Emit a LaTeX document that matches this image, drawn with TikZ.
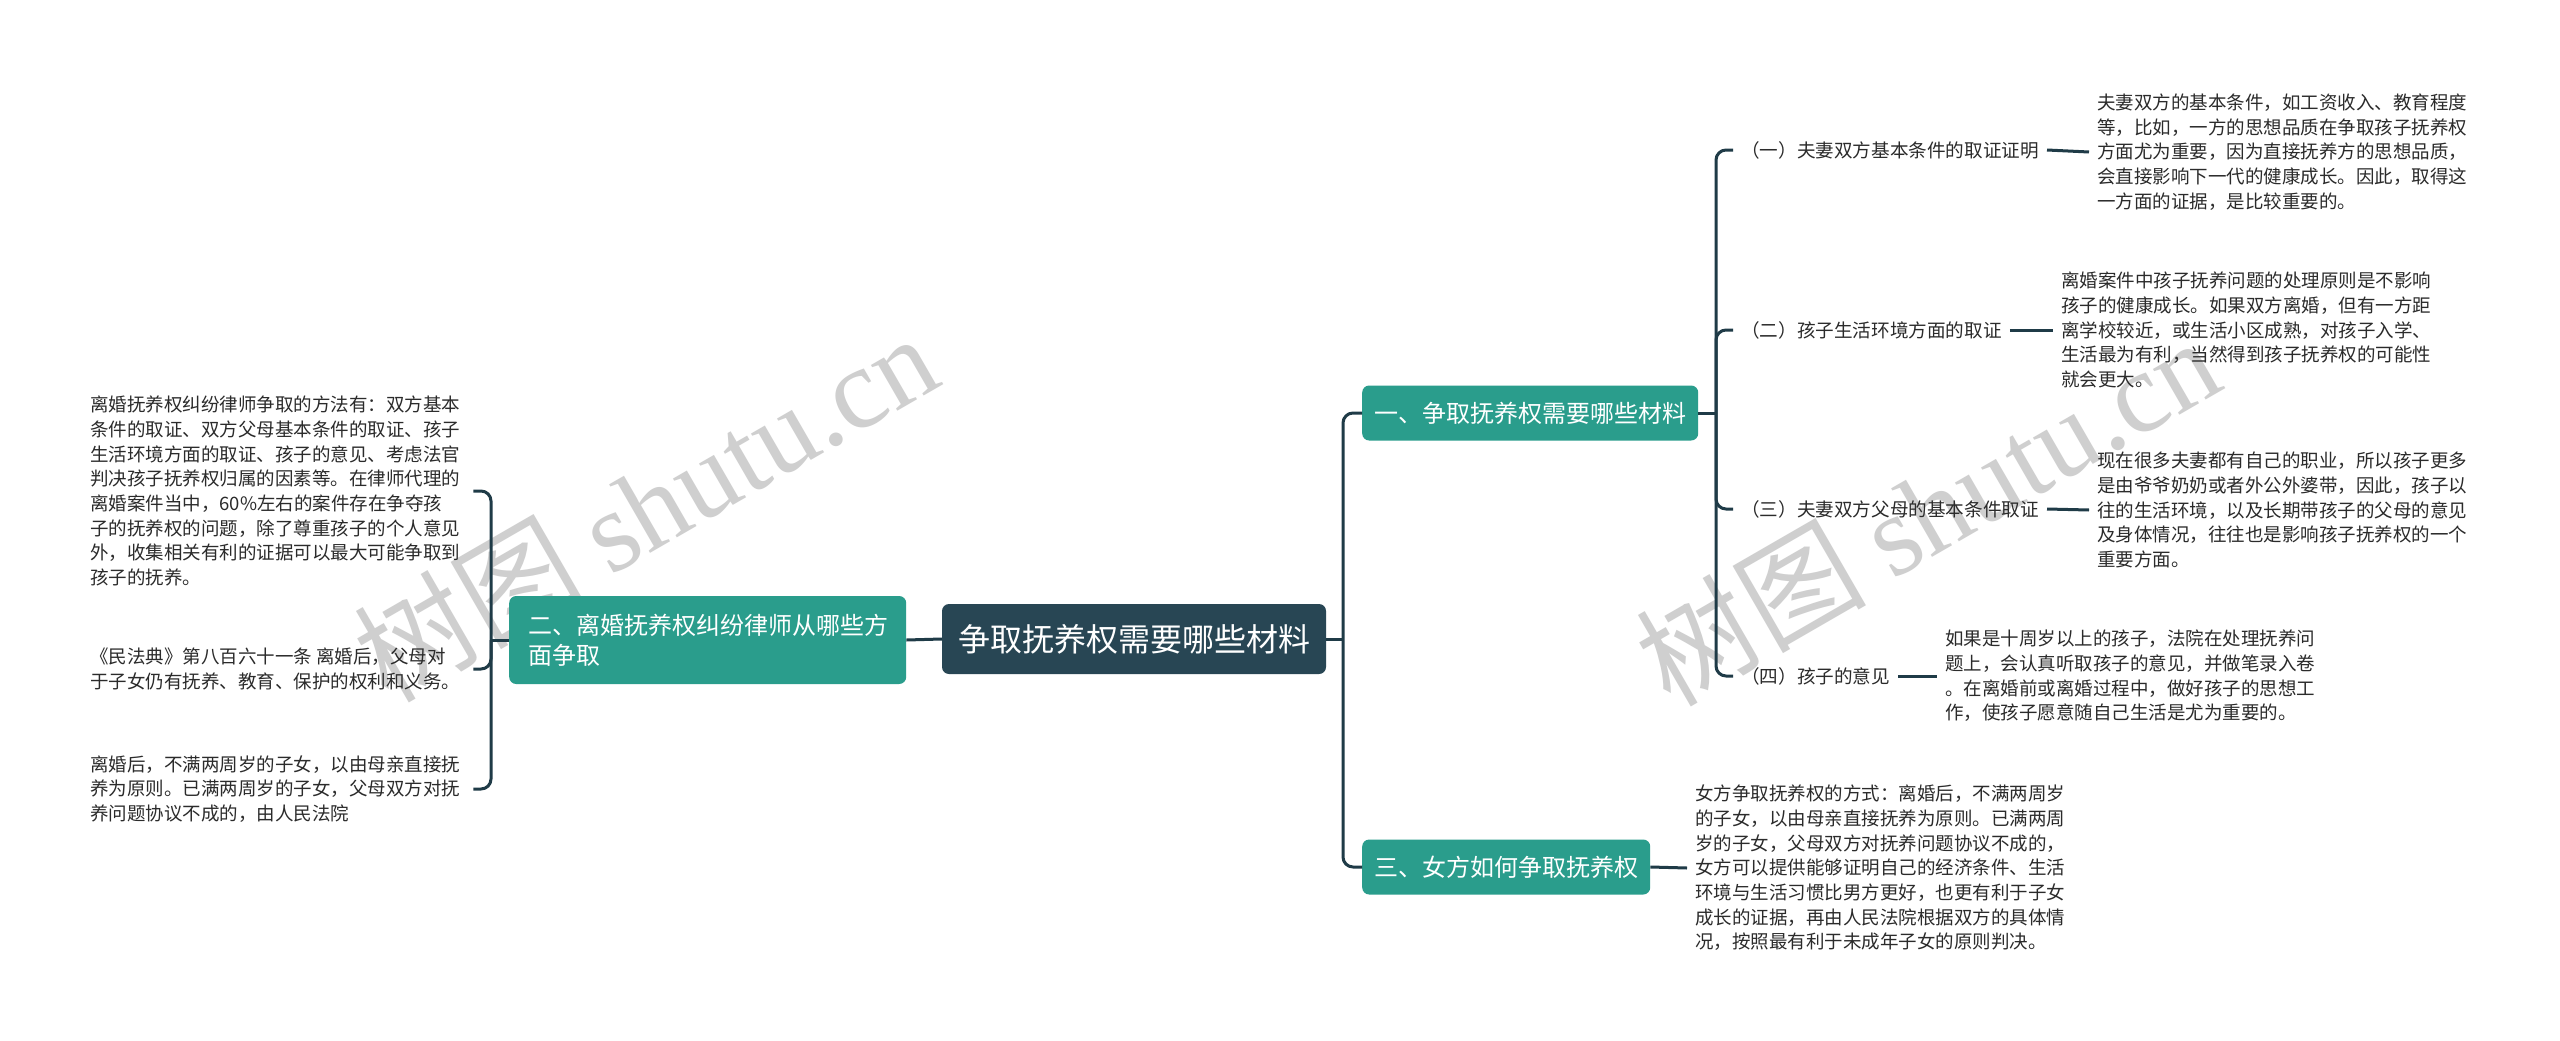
\documentclass[tikz,border=0pt]{standalone}
\usepackage{fontspec}
\setmainfont{Noto Sans CJK SC}
\newfontfamily\wmlatin{Liberation Serif}
\definecolor{rootc}{HTML}{284654}
\definecolor{tealc}{HTML}{2A9D8C}
\definecolor{linec}{HTML}{1F3B47}
\definecolor{textc}{HTML}{2B2B2B}
\definecolor{wmc}{HTML}{CFCFCF}
\tikzset{
  conn/.style={draw=linec, line width=3pt},
  rootbox/.style={fill=rootc, rounded corners=7pt, text=white, font=\fontsize{32}{38}\selectfont, minimum width=384pt, minimum height=70pt, inner sep=0pt},
  subbox/.style={fill=tealc, rounded corners=7pt, text=white, font=\fontsize{24}{30}\selectfont, minimum height=55pt, inner xsep=12pt, inner ysep=0pt},
  leaftext/.style={font=\fontsize{18.5}{24.7}\selectfont, text=textc, align=left, inner ysep=0pt},
  labeltext/.style={font=\fontsize{18.6}{24}\selectfont, text=textc, inner xsep=8pt, inner ysep=0pt},
  wm/.style={text=wmc, font=\fontsize{115}{120}\selectfont, inner sep=0pt}
}
\begin{document}
\begin{tikzpicture}[x=1pt,y=-1pt]
\useasboundingbox[fill=white] (0,0) rectangle (2560,1041);
% watermarks
\node[wm, rotate=30] (wm1) at (645,506) {树图 {\wmlatin shutu.cn}};
\node[wm, rotate=30] (wm2) at (1927,510) {树图 {\wmlatin shutu.cn}};

% main nodes
\node[rootbox] (root) at (1134,639) {争取抚养权需要哪些材料};
\node[subbox, anchor=west, align=left, text width=359pt, inner xsep=19pt, minimum height=88pt, font=\fontsize{24}{30}\selectfont] (sub2) at (509,640) {二、离婚抚养权纠纷律师从哪些方\\面争取};
\node[subbox, anchor=west] (sub1) at (1362,413) {一、争取抚养权需要哪些材料};
\node[subbox, anchor=west] (sub3) at (1362,867) {三、女方如何争取抚养权};

% left leaves
\node[leaftext, anchor=west, inner xsep=13pt] (L1) at (77,491) {离婚抚养权纠纷律师争取的方法有：双方基本\\条件的取证、双方父母基本条件的取证、孩子\\生活环境方面的取证、孩子的意见、考虑法官\\判决孩子抚养权归属的因素等。在律师代理的\\离婚案件当中，60\%左右的案件存在争夺孩\\子的抚养权的问题，除了尊重孩子的个人意见\\外，收集相关有利的证据可以最大可能争取到\\孩子的抚养。};
\node[leaftext, anchor=west, inner xsep=13pt] (L2) at (77,669) {《民法典》第八百六十一条 离婚后，父母对\\于子女仍有抚养、教育、保护的权利和义务。};
\node[leaftext, anchor=west, inner xsep=13pt] (L3) at (77,789) {离婚后，不满两周岁的子女，以由母亲直接抚\\养为原则。已满两周岁的子女，父母双方对抚\\养问题协议不成的，由人民法院};

% right labels
\node[labeltext, anchor=west] (lab1) at (1733,150) {（一）夫妻双方基本条件的取证证明};
\node[labeltext, anchor=west] (lab2) at (1733,330) {（二）孩子生活环境方面的取证};
\node[labeltext, anchor=west] (lab3) at (1733,509) {（三）夫妻双方父母的基本条件取证};
\node[labeltext, anchor=west] (lab4) at (1733,676) {（四）孩子的意见};

% right leaves
\node[leaftext, anchor=west, inner xsep=8pt] (leaf1) at (2089,152) {夫妻双方的基本条件，如工资收入、教育程度\\等，比如，一方的思想品质在争取孩子抚养权\\方面尤为重要，因为直接抚养方的思想品质，\\会直接影响下一代的健康成长。因此，取得这\\一方面的证据，是比较重要的。};
\node[leaftext, anchor=west, inner xsep=8pt] (leaf2) at (2053,330) {离婚案件中孩子抚养问题的处理原则是不影响\\孩子的健康成长。如果双方离婚，但有一方距\\离学校较近，或生活小区成熟，对孩子入学、\\生活最为有利，当然得到孩子抚养权的可能性\\就会更大。};
\node[leaftext, anchor=west, inner xsep=8pt] (leaf3) at (2089,510) {现在很多夫妻都有自己的职业，所以孩子更多\\是由爷爷奶奶或者外公外婆带，因此，孩子以\\往的生活环境，以及长期带孩子的父母的意见\\及身体情况，往往也是影响孩子抚养权的一个\\重要方面。};
\node[leaftext, anchor=west, inner xsep=8pt] (leaf4) at (1937,676) {如果是十周岁以上的孩子，法院在处理抚养问\\题上，会认真听取孩子的意见，并做笔录入卷\\。在离婚前或离婚过程中，做好孩子的思想工\\作，使孩子愿意随自己生活是尤为重要的。};
\node[leaftext, anchor=west, inner xsep=8pt] (leaf5) at (1687,868) {女方争取抚养权的方式：离婚后，不满两周岁\\的子女，以由母亲直接抚养为原则。已满两周\\岁的子女，父母双方对抚养问题协议不成的，\\女方可以提供能够证明自己的经济条件、生活\\环境与生活习惯比男方更好，也更有利于子女\\成长的证据，再由人民法院根据双方的具体情\\况，按照最有利于未成年子女的原则判决。};

% connectors
\coordinate (b1) at (1343,639);
\coordinate (b2) at (1716,413);
\coordinate (b3) at (491,640);
\draw[conn] (root.east) -- (b1);
\draw[conn, rounded corners=10pt] (sub1.west) -| (b1) |- (sub3.west);
\draw[conn] (sub1.east) -- (b2);
\draw[conn, rounded corners=10pt] (lab1.west) -| (b2) |- (lab4.west);
\draw[conn, rounded corners=10pt] (b2) |- (lab2.west);
\draw[conn, rounded corners=10pt] (b2) |- (lab3.west);
\draw[conn] (lab1.east) -- (leaf1.west);
\draw[conn] (lab2.east) -- (leaf2.west);
\draw[conn] (lab3.east) -- (leaf3.west);
\draw[conn] (lab4.east) -- (leaf4.west);
\draw[conn] (sub3.east) -- (leaf5.west);
\draw[conn] (root.west) -- (sub2.east);
\draw[conn] (sub2.west) -- (b3);
\draw[conn, rounded corners=10pt] (L1.east) -| (b3) |- (L3.east);
\draw[conn, rounded corners=10pt] (b3) |- (L2.east);
\end{tikzpicture}
\end{document}
